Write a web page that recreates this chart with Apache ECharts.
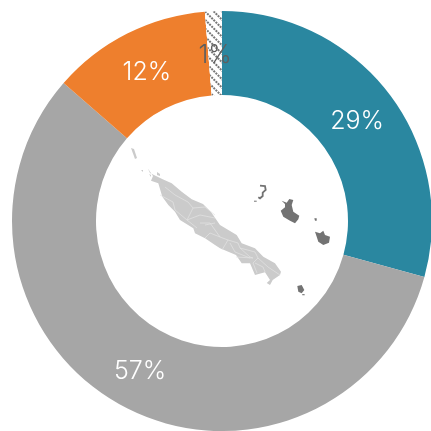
<!DOCTYPE html>
<html><head><meta charset="utf-8">
<style>html,body{margin:0;padding:0;background:#fff}#c{width:431px;height:431px}</style>
<script src="https://cdn.jsdelivr.net/npm/echarts@6/dist/echarts.min.js"></script>
</head><body><div id="c"></div>
<script>
const categories = ['A','B','C','D'];
const values = [29.3, 57.1, 12.3, 1.3];
const labels = ['29%','57%','12%','1%'];
const colors = ['#2a87a0','#a6a6a6','#ee7f2d','#ffffff'];
const labelColors = ['#ffffff','#ffffff','#ffffff','#5f5f5f'];
const labelNudge = [[-1,4],[-1,0],[2,4],[0,5]];

// Decorative map artwork, traced in page pixels
const mainIsland = [[147.7,168.3],[150,173],[156,176],[162.7,179.3],[171.7,183.3],[181.7,191.7],[191.7,199.3],[203,204],[211,212],[220,225],[236.7,235],[241.7,243.3],[255,248.3],[263.3,256.7],[275,263.3],[281,271.7],[280,275],[272.7,280],[270,285],[266.7,283],[270,280],[265,272.3],[255,275],[250,263.3],[241.7,263.3],[236,255],[220,248.3],[215,245],[205,238.3],[195,233.3],[193.3,228.3],[180,220],[175,211.7],[168.3,205],[162.3,196.7],[158.3,183.3],[151,180.7],[153,176]];
const borders = [
 [[165,187],[175,195],[188,202],[193,208],[205,207],[215,215]],
 [[160,195],[173,202],[175,210],[187,220],[193,208]],
 [[187,220],[200,215],[215,218]],
 [[187,220],[197,228]],
 [[205,225],[215,223]],
 [[200,223],[210,223],[220,237],[228,240],[222,250]],
 [[220,237],[210,233],[205,238]],
 [[228,240],[238,243],[240,248],[250,257],[253,258],[236,257]],
 [[230,243],[235,252],[250,258]],
 [[240,248],[255,252],[258,258],[253,263],[257,273]],
 [[258,258],[268,267],[280,275]],
 [[265,272],[263,267],[255,263]]
];
const lightBits = [[[131,148],[134,149],[137,158],[135,159]],[[141,170],[143,170],[143,172]],[[157,172],[160,174],[160,176],[157,175]],[[149,174],[151,175],[151,177]]];
const darkIslands = [
 [[281.7,200.7],[286.7,202.7],[289.3,199],[293.3,200],[291.7,205],[293.3,211.7],[299.3,215.7],[298.3,219.3],[295,223.3],[290,220.7],[283.3,216.7],[280.7,210.7],[285,207.3],[285,204]],
 [[315,231.7],[320,233.3],[323.3,230.7],[325,235],[330,236.7],[329,242.7],[323.3,245],[318.3,241.7],[316.7,236.7]],
 [[297.3,286],[301.7,285],[304.3,290],[301.7,293.3],[298.3,291.7]],
 [[302.3,294],[304.7,294.3],[304.7,295.3],[302.3,295.3]],
 [[314.3,218.3],[316.7,218.3],[316.7,220.7],[315,220.7]],
 [[254,200.7],[256.7,200.7],[256.7,201.7],[254,201.7]]
];
const ouvea = [[260,185.7],[265,186],[265.7,190],[262.7,192.7],[262.7,196],[260,198.3],[258.3,197.3]];

const mapGraphics = [];
mapGraphics.push({type:'polygon',silent:true,shape:{points:mainIsland},style:{fill:'#cbcbcb'}});
borders.forEach(b=>mapGraphics.push({type:'polyline',silent:true,shape:{points:b},style:{fill:'none',stroke:'#e4e4e4',lineWidth:0.7}}));
lightBits.forEach(b=>mapGraphics.push({type:'polygon',silent:true,shape:{points:b},style:{fill:'#cbcbcb'}}));
darkIslands.forEach(b=>mapGraphics.push({type:'polygon',silent:true,shape:{points:b},style:{fill:'#737373'}}));
mapGraphics.push({type:'polyline',silent:true,shape:{points:ouvea},style:{fill:'none',stroke:'#737373',lineWidth:1.8}});

const chart = echarts.init(document.getElementById('c'),null,{renderer:'canvas'});
chart.setOption({
  animation:false,
  graphic:{elements:mapGraphics},
  series:[{
    type:'pie',
    center:[222,221],
    radius:[126,210],
    startAngle:90,
    clockwise:true,
    silent:true,
    labelLine:{show:false},
    label:{position:'inside',fontFamily:'Inter',fontWeight:300,fontSize:25,formatter:p=>labels[p.dataIndex]},
    data:categories.map((c,i)=>({
      name:c,value:values[i],
      itemStyle:Object.assign({color:colors[i]}, i===3?{decal:{symbol:'rect',symbolSize:1,color:'#777777',backgroundColor:'#ffffff',dashArrayX:[[2,1]],dashArrayY:[1.5,4],rotation:Math.PI/4}}:{}),
      label:{color:labelColors[i],offset:labelNudge[i]}
    }))
  }]
});
</script></body></html>
